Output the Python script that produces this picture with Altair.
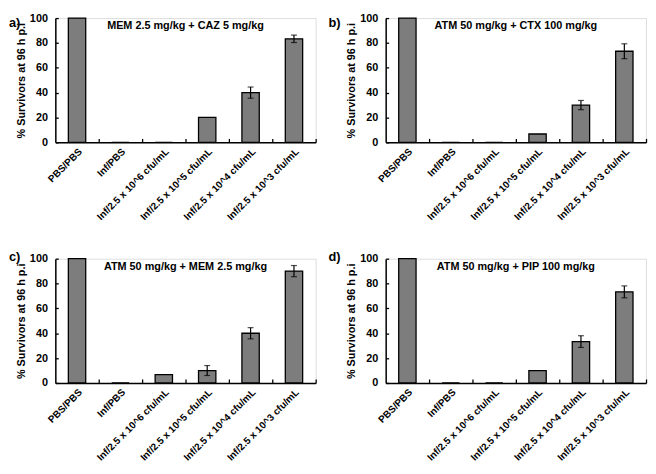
import altair as alt
import pandas as pd

categories = [
    "PBS/PBS",
    "Inf/PBS",
    "Inf/2.5 x 10^6 cfu/mL",
    "Inf/2.5 x 10^5 cfu/mL",
    "Inf/2.5 x 10^4 cfu/mL",
    "Inf/2.5 x 10^3 cfu/mL",
]
panel_letters = ["a)", "b)", "c)", "d)"]
panel_titles = [
    "MEM 2.5 mg/kg + CAZ 5 mg/kg",
    "ATM 50 mg/kg + CTX 100 mg/kg",
    "ATM 50 mg/kg + MEM 2.5 mg/kg",
    "ATM 50 mg/kg + PIP 100 mg/kg",
]
values_a = [100, 0, 0, 20, 40, 83.3]
errors_a = [0, 0, 0, 0, 4.5, 3.0]
values_b = [100, 0, 0, 6.7, 30, 73.3]
errors_b = [0, 0, 0, 0, 3.7, 6.0]
values_c = [100, 0, 6.7, 10, 40, 90]
errors_c = [0, 0, 0, 4.0, 4.5, 4.5]
values_d = [100, 0, 0, 10, 33.3, 73.3]
errors_d = [0, 0, 0, 0, 4.7, 4.8]
y_ticks = [0, 20, 40, 60, 80, 100]
y_title = "% Survivors at 96 h p.i"

W, H = 264, 126
FONT = "Liberation Sans"


def panel(letter, title, values, errors, letter_x, letter_y):
    df = pd.DataFrame({"cat": categories, "val": values, "err": errors})
    df["lo"] = df["val"] - df["err"]
    df["hi"] = df["val"] + df["err"]
    base = alt.Chart(df)
    xscale = alt.Scale(paddingInner=0, paddingOuter=0)
    yscale = alt.Scale(domain=[0, 100], nice=False)

    bars = base.mark_bar(
        width=alt.RelativeBandSize(0.4), fill="#7d7d7d", stroke="black", strokeWidth=1.3
    ).encode(
        x=alt.X(
            "cat:N", sort=categories, scale=xscale,
            axis=alt.Axis(
                title=None, labelAngle=-45, labelAlign="right", labelBaseline="top",
                labelFont=FONT, labelFontSize=10, labelFontWeight="bold",
                labelColor="black", ticks=False, domainColor="black",
                domainWidth=1.5, labelPadding=4, labelLimit=300, orient="bottom",
            ),
        ),
        y=alt.Y(
            "val:Q", scale=yscale,
            axis=alt.Axis(
                values=y_ticks, title=y_title, titleFont=FONT, titleFontSize=11,
                titleFontWeight="bold", titleColor="black", titlePadding=3,
                labelFont=FONT, labelFontSize=11, labelFontWeight="bold",
                labelColor="black", labelPadding=8, ticks=False,
                domainColor="black", domainWidth=1.5, grid=False, orient="left",
            ),
        ),
    )

    err = base.transform_filter("datum.err > 0").mark_rule(
        color="black", strokeWidth=1.2
    ).encode(
        x=alt.X(
            "cat:N", sort=categories,
            axis=alt.Axis(
                orient="bottom", offset=-4, domain=False, labels=False, ticks=True,
                tickSize=4, tickColor="black", tickWidth=1.3, bandPosition=1,
                title=None, grid=False,
            ),
        ),
        y=alt.Y(
            "lo:Q",
            axis=alt.Axis(
                orient="left", offset=-3, domain=False, labels=False, ticks=True,
                tickSize=3, tickColor="black", tickWidth=1.3, values=y_ticks,
                title=None, grid=False,
            ),
        ),
        y2="hi:Q",
    )

    caps_hi = base.transform_filter("datum.err > 0").mark_tick(
        color="black", thickness=1.2, size=6
    ).encode(
        x=alt.X("cat:N", sort=categories, axis=None),
        y=alt.Y("hi:Q", axis=None),
    )
    caps_lo = base.transform_filter("datum.err > 0").mark_tick(
        color="black", thickness=1.2, size=6
    ).encode(
        x=alt.X("cat:N", sort=categories, axis=None),
        y=alt.Y("lo:Q", axis=None),
    )

    ttl = alt.Chart(pd.DataFrame({"t": [title]})).mark_text(
        font=FONT, fontSize=11, fontWeight="bold", color="black", baseline="middle"
    ).encode(text="t:N", x=alt.value(W / 2), y=alt.value(8))

    let = alt.Chart(pd.DataFrame({"t": [letter]})).mark_text(
        font=FONT, fontSize=13, fontWeight="bold", color="black",
        align="left", baseline="middle",
    ).encode(text="t:N", x=alt.value(letter_x), y=alt.value(letter_y))

    return alt.layer(bars, err, caps_hi, caps_lo, ttl, let).resolve_axis(
        x="independent", y="independent"
    ).properties(width=W, height=H)


pa = panel(panel_letters[0], panel_titles[0], values_a, errors_a, -47, 5)
pb = panel(panel_letters[1], panel_titles[1], values_b, errors_b, -58, 5)
pc = panel(panel_letters[2], panel_titles[2], values_c, errors_c, -47, -2)
pd_ = panel(panel_letters[3], panel_titles[3], values_d, errors_d, -58, -2)

chart = alt.vconcat(
    alt.hconcat(pa, pb, spacing=10),
    alt.hconcat(pc, pd_, spacing=10),
    spacing=28,
    padding=0,
).configure_view(stroke=None).configure(background="white")

chart.save("out.html", embed_options={"renderer": "svg", "actions": False})
